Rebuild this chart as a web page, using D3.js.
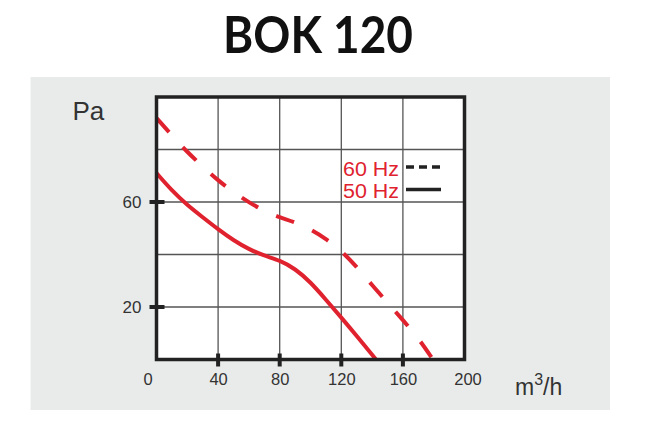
<!DOCTYPE html>
<html>
<head>
<meta charset="utf-8">
<script src="https://cdn.jsdelivr.net/npm/d3@7"></script>
<style>
  body { margin: 0; background: #fff; }
  svg { display: block; }
</style>
</head>
<body>
<svg width="652" height="443"></svg>
<script>
// data (flow m3/h, pressure Pa)
var flow60 = [0, 10, 20, 30, 40, 50, 60, 70, 80, 90, 100, 110, 120, 130, 140, 150, 160, 170, 179.5];
var pa60 = [92, 85.4, 79, 73.5, 68.2, 63.7, 59.9, 56.5, 54.1, 52.3, 49.6, 46, 41.5, 35.3, 28.3, 21.7, 15, 8.2, 0];
var flow50 = [0, 10, 20, 30, 40, 50, 60, 70, 80, 90, 100, 110, 120, 130, 142.5];
var pa50 = [71, 64.3, 58.8, 54.2, 49.6, 45.4, 42, 39.5, 37.8, 34.6, 29.5, 22.8, 16, 9, 0];
var xTickLabels = [0, 40, 80, 120, 160, 200];
var xTickMarks = [40, 80, 120, 160];
var yTicks = [20, 60];
var gridX = [40, 80, 120, 160];
var gridY = [20, 40, 60, 80];
var legendNames = ['60 Hz', '50 Hz'];

var red = '#e0222f';
var ink = '#222';
var textCol = '#333';

var svg = d3.select('svg');

// gray panel
svg.append('rect')
  .attr('x', 30.5).attr('y', 77)
  .attr('width', 579.5).attr('height', 333)
  .attr('fill', '#e9ebeb');

svg.append('text')
  .attr('x', 318).attr('y', 53)
  .attr('text-anchor', 'middle')
  .attr('font-family', 'Lato, "Open Sans", sans-serif')
  .attr('font-weight', 'bold')
  .attr('font-size', 52)
  .attr('textLength', 190)
  .attr('lengthAdjust', 'spacingAndGlyphs')
  .attr('fill', '#111')
  .text('BOK 120');

var x = d3.scaleLinear().domain([0, 200]).range([156.5, 464.5]);
var y = d3.scaleLinear().domain([0, 100]).range([359.5, 97]);

svg.append('rect')
  .attr('x', x(0)).attr('y', y(100))
  .attr('width', x(200) - x(0)).attr('height', y(0) - y(100))
  .attr('fill', '#fff');

var grid = svg.append('g').attr('stroke', '#555').attr('stroke-width', 1.3);
grid.selectAll('.gx').data(gridX).enter().append('line')
  .attr('x1', d => x(d)).attr('x2', d => x(d))
  .attr('y1', y(100)).attr('y2', y(0));
grid.selectAll('.gy').data(gridY).enter().append('line')
  .attr('y1', d => y(d)).attr('y2', d => y(d))
  .attr('x1', x(0)).attr('x2', x(200));

var line = d3.line()
  .x(d => x(d[0]))
  .y(d => y(d[1]))
  .curve(d3.curveBasis);

var d60 = flow60.map((f, i) => [f, pa60[i]]);
var d50 = flow50.map((f, i) => [f, pa50[i]]);

svg.append('path')
  .datum(d60)
  .attr('d', line)
  .attr('fill', 'none')
  .attr('stroke', red)
  .attr('stroke-width', 4)
  .attr('stroke-dasharray', '19 20');

svg.append('path')
  .datum(d50)
  .attr('d', line)
  .attr('fill', 'none')
  .attr('stroke', red)
  .attr('stroke-width', 4);

// frame
svg.append('rect')
  .attr('x', x(0)).attr('y', y(100))
  .attr('width', x(200) - x(0)).attr('height', y(0) - y(100))
  .attr('fill', 'none')
  .attr('stroke', ink)
  .attr('stroke-width', 3.5);

// tick marks
svg.append('g').selectAll('line').data(xTickMarks).enter().append('line')
  .attr('x1', d => x(d)).attr('x2', d => x(d))
  .attr('y1', y(0) - 6).attr('y2', y(0) + 7)
  .attr('stroke', ink).attr('stroke-width', 4);
svg.append('g').selectAll('line').data(yTicks).enter().append('line')
  .attr('y1', d => y(d)).attr('y2', d => y(d))
  .attr('x1', x(0) - 7).attr('x2', x(0) + 8)
  .attr('stroke', ink).attr('stroke-width', 4);

// axis labels
var xAxis = svg.append('g')
  .attr('transform', 'translate(0,' + (y(0) + 9) + ')')
  .call(d3.axisBottom(x).tickValues(xTickLabels).tickSize(0).tickPadding(5));
xAxis.select('.domain').remove();
xAxis.selectAll('text')
  .attr('font-family', '"Liberation Sans", Arial, sans-serif')
  .attr('font-size', 16.5)
  .attr('fill', textCol)
  .attr('dx', d => d === 0 ? -9 : (d === 200 ? 3 : 0));

var yAxis = svg.append('g')
  .attr('transform', 'translate(' + (x(0) - 15) + ',0)')
  .call(d3.axisLeft(y).tickValues(yTicks).tickSize(0).tickPadding(0));
yAxis.select('.domain').remove();
yAxis.selectAll('text')
  .attr('font-family', '"Liberation Sans", Arial, sans-serif')
  .attr('font-size', 17)
  .attr('fill', textCol);

svg.append('text')
  .attr('x', 72.5).attr('y', 120)
  .attr('font-family', '"Liberation Sans", Arial, sans-serif')
  .attr('font-size', 26)
  .attr('fill', textCol)
  .text('Pa');

var unit = svg.append('text')
  .attr('x', 515).attr('y', 395)
  .attr('font-family', '"Liberation Sans", Arial, sans-serif')
  .attr('font-size', 23)
  .attr('fill', textCol);
unit.append('tspan').text('m');
unit.append('tspan').attr('font-size', 16).attr('dy', -10).text('3');
unit.append('tspan').attr('dy', 10).text('/h');

// legend
var leg = svg.append('g');
leg.selectAll('text').data(legendNames).enter().append('text')
  .attr('x', 343)
  .attr('y', (d, i) => 176 + i * 21.5)
  .attr('font-family', '"Liberation Sans", Arial, sans-serif')
  .attr('font-size', 20)
  .attr('textLength', 56)
  .attr('lengthAdjust', 'spacingAndGlyphs')
  .attr('fill', red)
  .text(d => d);
leg.selectAll('line').data(legendNames).enter().append('line')
  .attr('x1', 406).attr('x2', 441)
  .attr('y1', (d, i) => 167 + i * 22.5)
  .attr('y2', (d, i) => 167 + i * 22.5)
  .attr('stroke', ink)
  .attr('stroke-width', 3.5)
  .attr('stroke-dasharray', (d, i) => i === 0 ? '8 5' : null);
</script>
</body>
</html>
